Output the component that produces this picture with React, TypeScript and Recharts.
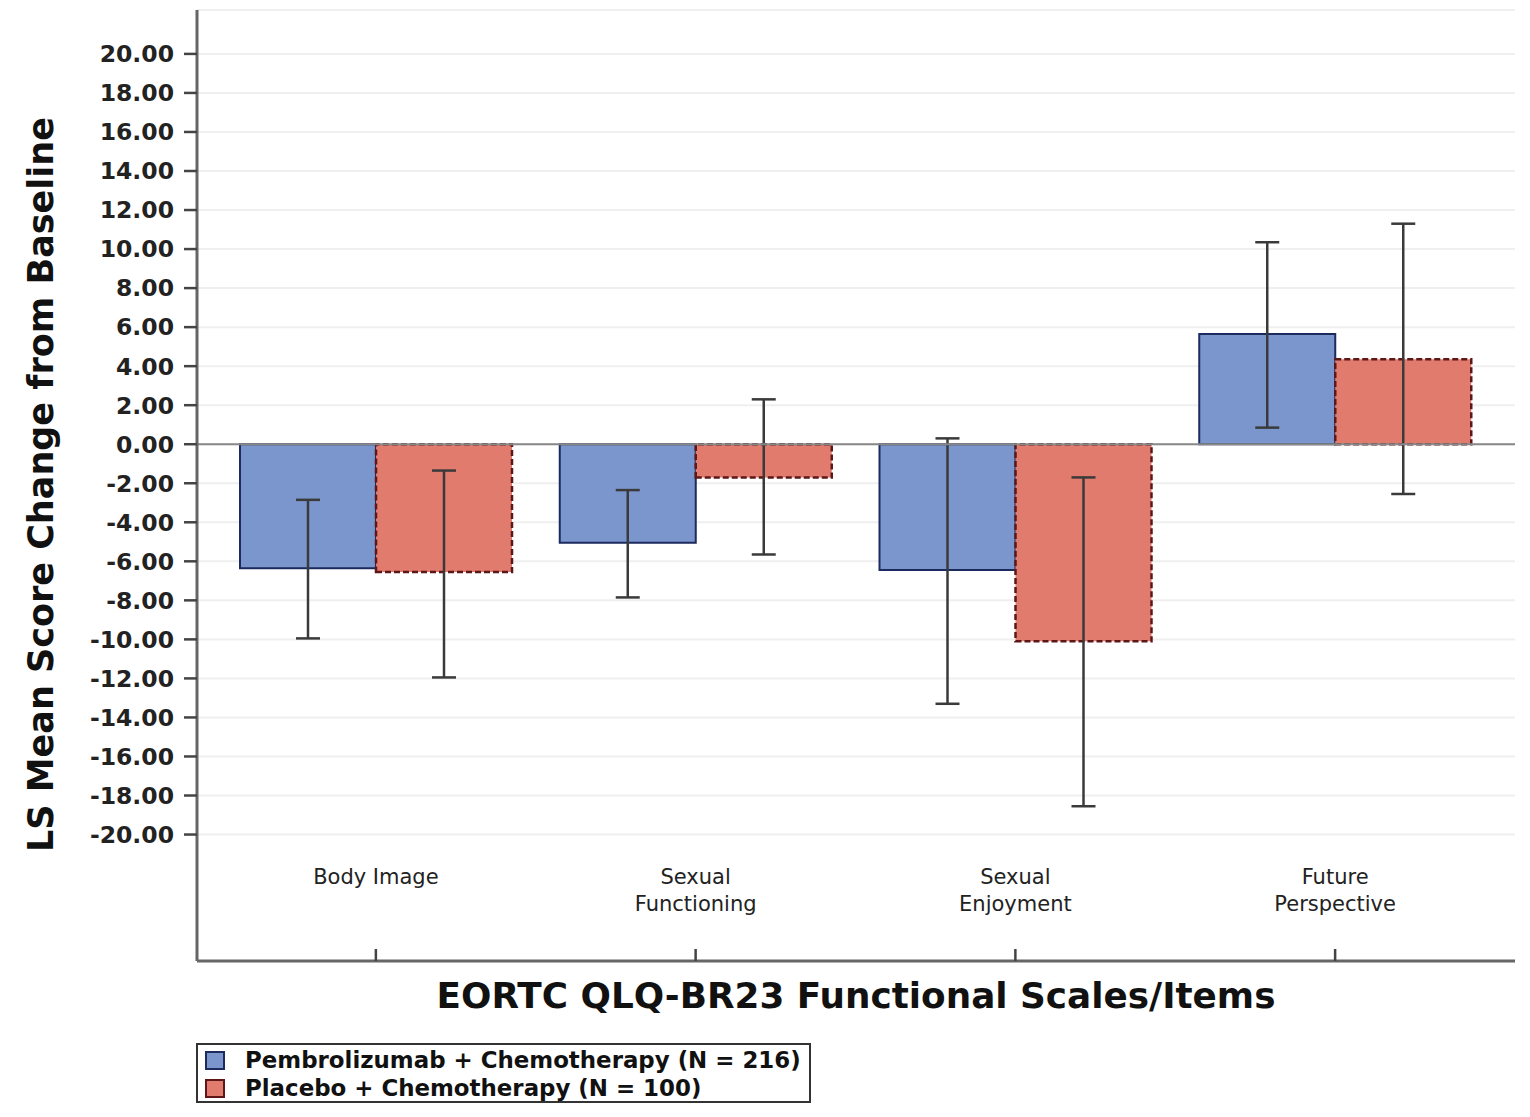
import React from 'react';
import { BarChart, Bar, XAxis, YAxis, CartesianGrid, ErrorBar, ReferenceLine, Legend } from 'recharts';

const categories = ['Body Image', 'Sexual Functioning', 'Sexual Enjoyment', 'Future Perspective'];
const categoryTickLines = [['Body Image'], ['Sexual', 'Functioning'], ['Sexual', 'Enjoyment'], ['Future', 'Perspective']];

const pembroMean = [-6.35, -5.05, -6.45, 5.65];
const pembroLower = [-9.95, -7.85, -13.3, 0.85];
const pembroUpper = [-2.85, -2.35, 0.3, 10.35];

const placeboMean = [-6.55, -1.7, -10.1, 4.35];
const placeboLower = [-11.95, -5.65, -18.55, -2.55];
const placeboUpper = [-1.35, 2.3, -1.7, 11.3];

const yTicks = [20, 18, 16, 14, 12, 10, 8, 6, 4, 2, 0, -2, -4, -6, -8, -10, -12, -14, -16, -18, -20];
const seriesNames = ['Pembrolizumab + Chemotherapy (N = 216)', 'Placebo + Chemotherapy (N = 100)'];
const yAxisTitle = 'LS Mean Score Change from Baseline';
const xAxisTitle = 'EORTC QLQ-BR23 Functional Scales/Items';

const BLUE_FILL = '#7b96cc';
const BLUE_STROKE = '#1d2a5e';
const RED_FILL = '#e07b6e';
const RED_STROKE = '#5e1717';

const data = categories.map((c, i) => ({
  category: c,
  pembro: pembroMean[i],
  pembroErr: [pembroMean[i] - pembroLower[i], pembroUpper[i] - pembroMean[i]],
  placebo: placeboMean[i],
  placeboErr: [placeboMean[i] - placeboLower[i], placeboUpper[i] - placeboMean[i]],
}));

const XTick = (props: any) => {
  const { x, y, payload } = props;
  const idx = categories.indexOf(payload.value);
  const lines = idx >= 0 ? categoryTickLines[idx] : [String(payload.value)];
  return (
    <g>
      <line x1={x} x2={x} y1={y - 12} y2={y} stroke="#444" strokeWidth={2.5} />
      <text
        x={x}
        y={y - 77}
        textAnchor="middle"
        fill="#222"
        style={{ fontFamily: 'DejaVu Sans, sans-serif', fontSize: 21 }}
      >
        {lines.map((l, k) => (
          <tspan key={k} x={x} dy={k === 0 ? 0 : 27}>
            {l}
          </tspan>
        ))}
      </text>
    </g>
  );
};

const swatchStrokes = [BLUE_STROKE, RED_STROKE];

const LegendBox = (props: any) => {
  const payload = props.payload || [];
  return (
    <div
      style={{
        border: '2.5px solid #333',
        width: 615,
        height: 60,
        boxSizing: 'border-box',
        padding: '1px 0 0 7px',
        background: '#fff',
      }}
    >
      {payload.map((entry: any, i: number) => (
        <div key={i} style={{ display: 'flex', alignItems: 'center', height: 28 }}>
          <span
            style={{
              display: 'inline-block',
              width: 20,
              height: 19,
              background: entry.color,
              border: `2px solid ${swatchStrokes[i]}`,
              boxSizing: 'border-box',
            }}
          />
          <span
            style={{
              marginLeft: 20,
              fontFamily: 'DejaVu Sans, sans-serif',
              fontWeight: 'bold',
              fontSize: 22.9,
              color: '#111',
              whiteSpace: 'nowrap',
            }}
          >
            {entry.value}
          </span>
        </div>
      ))}
    </div>
  );
};

export default function App() {
  return (
    <BarChart
      width={1514}
      height={1105}
      data={data}
      margin={{ top: 2, right: 7, bottom: 92, left: 0 }}
      barGap={0}
      barSize={136}
    >
      <CartesianGrid vertical={false} stroke="#efefef" strokeWidth={2} />
      <XAxis
        dataKey="category"
        padding={{ left: 19, right: 20 }}
        height={60}
        axisLine={{ stroke: '#666', strokeWidth: 3 }}
        tickLine={false}
        tickSize={0}
        tickMargin={0}
        tick={<XTick />}
        interval={0}
        label={{
          content: (p: any) => {
            const vb = p.viewBox || {};
            return (
              <text
                x={vb.x + vb.width / 2}
                y={vb.y + 47}
                textAnchor="middle"
                fill="#111"
                style={{ fontFamily: 'DejaVu Sans, sans-serif', fontWeight: 'bold', fontSize: 35.8 }}
              >
                {xAxisTitle}
              </text>
            );
          },
        }}
      />
      <YAxis
        width={189}
        domain={[-26.48, 22.25]}
        ticks={yTicks}
        interval={0}
        allowDataOverflow
        axisLine={{ stroke: '#666', strokeWidth: 3 }}
        tickLine={{ stroke: '#444', strokeWidth: 2.5 }}
        tickSize={13}
        tickMargin={10}
        tickFormatter={(v: number) => v.toFixed(2)}
        tick={{ fill: '#222', fontFamily: 'DejaVu Sans, sans-serif', fontWeight: 'bold', fontSize: 23.5 }}
        label={{
          content: (p: any) => {
            const vb = p.viewBox || {};
            const cx = 33;
            const cy = vb.y + vb.height / 2 - 1;
            return (
              <text
                x={cx}
                y={cy}
                transform={`rotate(-90, ${cx}, ${cy})`}
                textAnchor="middle"
                dominantBaseline="central"
                fill="#111"
                style={{ fontFamily: 'DejaVu Sans, sans-serif', fontWeight: 'bold', fontSize: 35 }}
              >
                {yAxisTitle}
              </text>
            );
          },
        }}
      />
      <Legend
        layout="horizontal"
        verticalAlign="middle"
        align="center"
        wrapperStyle={{ left: 188, top: 1035, width: 615 }}
        content={<LegendBox />}
      />
      <Bar
        dataKey="pembro"
        name={seriesNames[0]}
        fill={BLUE_FILL}
        stroke={BLUE_STROKE}
        strokeWidth={2}
        isAnimationActive={false}
      >
        <ErrorBar dataKey="pembroErr" width={12} stroke="#3a3a3a" strokeWidth={2.5} direction="y" />
      </Bar>
      <Bar
        dataKey="placebo"
        name={seriesNames[1]}
        fill={RED_FILL}
        stroke={RED_STROKE}
        strokeWidth={2.5}
        strokeDasharray="6 3"
        isAnimationActive={false}
      >
        <ErrorBar dataKey="placeboErr" width={12} stroke="#3a3a3a" strokeWidth={2.5} direction="y" />
      </Bar>
      <ReferenceLine y={0} stroke="#888" strokeWidth={2} />
    </BarChart>
  );
}
